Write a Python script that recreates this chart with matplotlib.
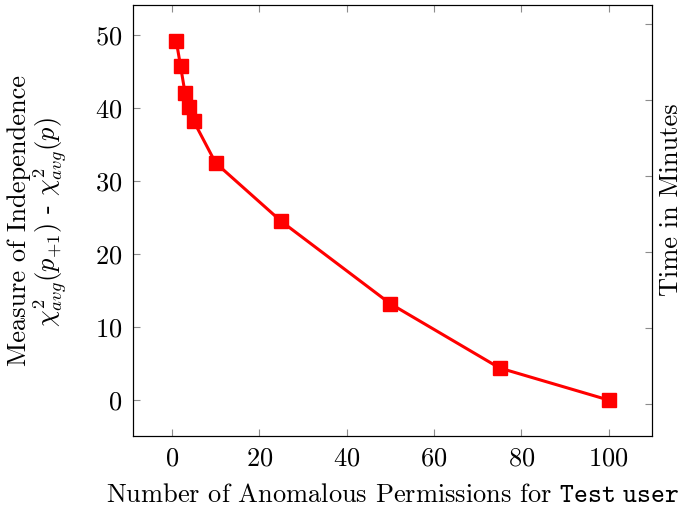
import numpy as np
import matplotlib
matplotlib.use("Agg")
import matplotlib.pyplot as plt

plt.rcParams['font.family'] = 'serif'
plt.rcParams['font.serif'] = ['cmr10']
plt.rcParams['mathtext.fontset'] = 'cm'
plt.rcParams['axes.formatter.use_mathtext'] = True

# data
perms = [1, 2, 3, 4, 5, 10, 25, 50, 75, 100]
indep = [49.2, 45.7, 42.1, 40.2, 38.2, 32.5, 24.5, 13.2, 4.4, 0.0]
xticks = [0, 20, 40, 60, 80, 100]
yticks = [0, 10, 20, 30, 40, 50]
rticks = [0, 0.2, 0.4, 0.6, 0.8, 1.0]

W, H = 683, 509
fs = 19
fig = plt.figure(figsize=(W / 100, H / 100), dpi=100)
ax = fig.add_axes([133 / W, 1 - 436 / H, (652 - 133) / W, (436 - 5) / H])

ax.plot(perms, indep, color='red', lw=2.2, marker='s', ms=10, zorder=3)

ax.set_xlim(-8.9, 109.9)
ax.set_ylim(-4.92, 54.12)
ax.set_xticks(xticks)
ax.set_yticks(yticks)
ax.tick_params(direction='in', length=5, width=0.8, color='0.55',
               labelsize=fs, top=True, right=False, pad=8)
for s in ax.spines.values():
    s.set_linewidth(0.8)

ax.set_xlabel(r'Number of Anomalous Permissions for $\mathtt{Test\ user}$',
              fontsize=fs, labelpad=9)

# left label, two lines
fig.text(19 / W, 1 - 220 / H, 'Measure of Independence', rotation=90,
         fontsize=fs, ha='center', va='center')
fig.text(50 / W, 1 - 222 / H, r'$\chi^2_{avg}(p_{+1})$ - $\chi^2_{avg}(p)$',
         rotation=90, fontsize=fs, ha='center', va='center')

# second axis, ticks only
ax2 = ax.twinx()
ax2.set_ylim(-0.083, 1.05)
ax2.set_yticks(rticks)
ax2.set_yticklabels([])
ax2.tick_params(direction='in', length=5, width=0.8, color='0.55')
fig.text(671 / W, 1 - 200 / H, 'Time in Minutes', rotation=90,
         fontsize=fs, ha='center', va='center')

fig.savefig('out.png', dpi=100)
